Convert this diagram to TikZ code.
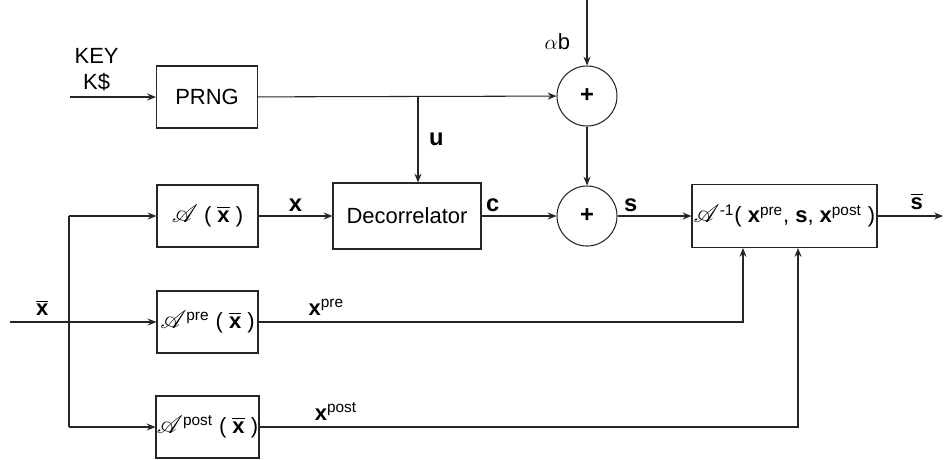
\documentclass[tikz,border=0pt]{standalone}
\usepackage{amsmath,amssymb}
\usepackage{mathrsfs}
\usepackage{xcolor}
\usepackage{fontspec}
\setmainfont{Liberation Sans}
\usetikzlibrary{positioning,arrows.meta}
\newcommand{\xbar}{\ensuremath{\overline{\text{\textbf{x}}}}}
\newcommand{\sbar}{\ensuremath{\overline{\text{\textbf{s}}}}}
\newcommand{\opA}{\text{\fontsize{15}{16}\selectfont$\mathscr{A}$}}

\begin{document}
\begin{tikzpicture}[x=0.2mm,y=-0.2mm,line width=0.6pt,draw=black!85,
  font=\fontsize{12.5}{15}\selectfont,
  blk/.style={draw,rectangle,inner sep=0.5pt,minimum width=20.2mm,minimum height=12.4mm},
  sumc/.style={draw,circle,minimum size=12mm,inner sep=0pt,font=\fontsize{13.5}{16}\selectfont\bfseries},
  arr/.style={-{Stealth[length=5pt,width=4pt]}},
  lbl/.style={inner sep=2pt,font=\fontsize{13.5}{16}\selectfont\bfseries}]
\useasboundingbox (0,0) rectangle (945,459);
% blocks
\node[blk] (prng) at (207,97) {PRNG};
\node[blk,minimum width=29.6mm,minimum height=13.2mm] (dec) at (407,216) {Decorrelator};
\node[sumc] (sum1) at (587,96) {+};
\node[sumc] (sum2) at (587,216) {+};
\node[blk,minimum width=37mm,minimum height=12.6mm] (inv) at (784.5,216)
  {\opA$^{\text{-1}}$( \textbf{x}$^{\text{pre}}$, \textbf{s}, \textbf{x}$^{\text{post}}$ )};
\node[blk] (ax) at (207.5,216) {\opA\ ( \xbar\ )};
\node[blk] (apre) at (207.5,322) {\opA$^{\text{pre}}$ ( \xbar\ )};
\node[blk] (apost) at (207.5,427) {\opA$^{\text{post}}$ ( \xbar\ )};
% free ends
\coordinate (keyin) at (70,97);
\coordinate (abin) at (587,0);
\coordinate (usplit) at (418,97);
\coordinate (xin) at (10,322);
\coordinate (xtop) at (69,216);
\coordinate (xbot) at (69,427);
\coordinate (sout) at (943,216);
% connectors
\draw[arr] (keyin)--node[pos=0.31,above,align=center,inner sep=3pt] {KEY\\K\$} (prng);
\draw[arr] (prng)--(sum1);
\draw[arr] (usplit)--node[lbl,right=4pt] {u} (usplit |- dec.north);
\draw[arr] (abin)--node[pos=0.63,left=6pt] {$\alpha$b} (sum1);
\draw[arr] (sum1)--(sum2);
\draw[arr] (ax)--node[lbl,above] {x} (dec);
\draw[arr] (dec)--node[lbl,pos=0.15,above] {c} (sum2);
\draw[arr] (sum2)--node[lbl,pos=0.18,above] {s} (inv);
\draw[arr] (inv)--node[pos=0.6,above] {\sbar} (sout);
\draw[arr] (xin)--node[pos=0.22,above] {\xbar} (apre);
\draw (xtop)--(xbot);
\draw[arr] (xtop)--(ax);
\draw[arr] (xbot)--(apost);
\draw[arr] (apre)-|node[pos=0.07,above] {\textbf{x}$^{\text{pre}}$} ([xshift=-8.3mm]inv.south);
\draw[arr] (apost)-|node[pos=0.071,above] {\textbf{x}$^{\text{post}}$} ([xshift=2.7mm]inv.south);
\end{tikzpicture}
\end{document}
